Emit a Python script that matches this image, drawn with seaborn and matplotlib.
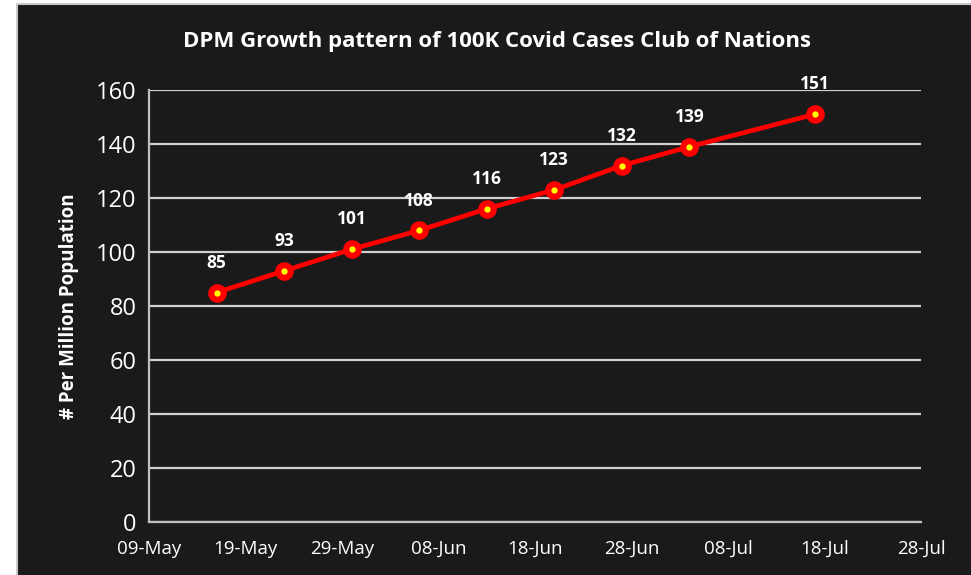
import matplotlib
matplotlib.use("Agg")
import matplotlib.pyplot as plt
import matplotlib.dates as mdates
from matplotlib.patches import Rectangle
import seaborn as sns
import pandas as pd
import numpy as np

dates = ["2020-05-16", "2020-05-23", "2020-05-30", "2020-06-06", "2020-06-13",
         "2020-06-20", "2020-06-27", "2020-07-04", "2020-07-17"]
dpm = [85, 93, 101, 108, 116, 123, 132, 139, 151]
title = "DPM Growth pattern of 100K Covid Cases Club of Nations"
ylabel = "# Per Million Population"

df = pd.DataFrame({"date": pd.to_datetime(dates), "dpm": dpm})

sns.set_theme(style="dark")
plt.rcParams["font.family"] = ["Open Sans", "DejaVu Sans"]

BG = "#1a1a1a"
fig = plt.figure(figsize=(9.71, 5.75), dpi=100, facecolor="white")
x0 = 17 / 971
ytop = 1 - 4 / 575
fig.patches.append(Rectangle((x0, -0.05), 1.1, ytop + 0.05, transform=fig.transFigure,
                             facecolor=BG, edgecolor="#c8c8c8", linewidth=1.5, zorder=-10))
ax = fig.add_axes([149 / 971, 53 / 575, 772 / 971, 432 / 575])
ax.set_zorder(1)
ax.set_facecolor(BG)

sns.lineplot(data=df, x="date", y="dpm", ax=ax, color="red", linewidth=3.4,
             marker="o", markersize=9, markerfacecolor="yellow",
             markeredgecolor="red", markeredgewidth=4.4, zorder=5)

for d, v in zip(df["date"], df["dpm"]):
    ax.annotate(str(v), (d, v), xytext=(0, 15), textcoords="offset points",
                ha="center", va="bottom", color="white", fontsize=12.5,
                fontweight="bold")

ax.set_ylim(0, 160)
ax.set_yticks(np.arange(0, 161, 20))
start = pd.Timestamp("2020-05-09")
end = pd.Timestamp("2020-07-28")
ax.set_xlim(start, end)
ax.set_xticks(pd.date_range(start, end, freq="10D"))
ax.xaxis.set_major_formatter(mdates.DateFormatter("%d-%b"))

ax.grid(axis="y", color="#d0d0d0", linewidth=1.6)
ax.grid(axis="x", visible=False)
for side in ["top", "right"]:
    ax.spines[side].set_visible(False)
for side in ["left", "bottom"]:
    ax.spines[side].set_visible(True)
    ax.spines[side].set_color("#bfbfbf")
    ax.spines[side].set_linewidth(1.6)

ax.tick_params(axis="y", colors="white", labelsize=17, length=0, pad=9)
ax.tick_params(axis="x", colors="white", labelsize=13.5, length=0, pad=13)
ax.set_xlabel("")
ax.set_ylabel(ylabel, color="white", fontsize=13.5, fontweight="bold", labelpad=12)

fig.text(497 / 971, 1 - 42 / 575, title, ha="center", va="center",
         color="white", fontsize=16, fontweight="bold")

fig.savefig("out.png", dpi=100, facecolor=fig.get_facecolor())
